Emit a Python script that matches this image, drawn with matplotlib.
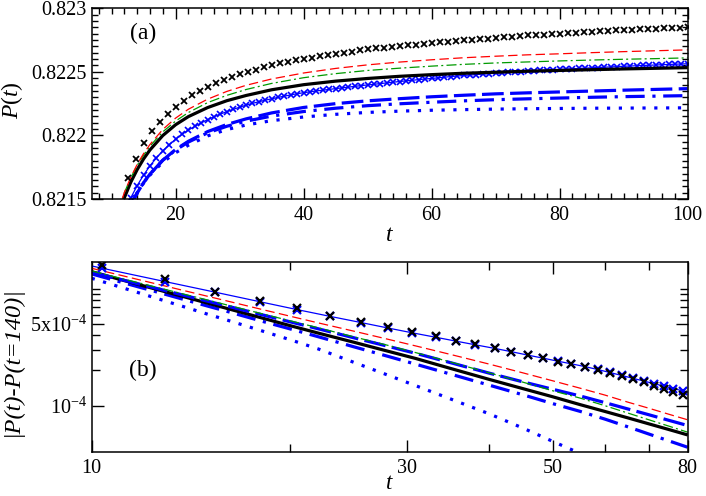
import matplotlib
matplotlib.use('Agg')
import matplotlib.pyplot as plt
import numpy as np
from matplotlib.ticker import FixedLocator, NullFormatter, FixedFormatter, MultipleLocator

plt.rcParams['font.family'] = ['Liberation Serif', 'DejaVu Serif']
plt.rcParams['mathtext.fontset'] = 'custom'
plt.rcParams['mathtext.rm'] = 'Liberation Serif'
plt.rcParams['mathtext.it'] = 'Liberation Serif:italic'

# ---------------- panel (a): P(t) ----------------
t_a = [11, 12, 13, 14, 15, 16, 18, 20, 22, 25, 28, 31, 35, 40, 45, 50, 55, 60, 65, 70, 75, 80, 85, 90, 95, 100]
P_red = [0.821403, 0.821551, 0.821671, 0.821772, 0.821857, 0.821929, 0.822047, 0.822136, 0.822206, 0.822285,
         0.822346, 0.822394, 0.822444, 0.822491, 0.822527, 0.822555, 0.822577, 0.822595, 0.822611, 0.822623,
         0.822634, 0.822642, 0.822651, 0.822659, 0.822666, 0.822673]
P_green = [0.821406, 0.821549, 0.821666, 0.821764, 0.821845, 0.821916, 0.822028, 0.822113, 0.82218, 0.822258,
           0.822315, 0.822361, 0.822409, 0.822454, 0.822486, 0.822511, 0.822529, 0.822545, 0.822559, 0.82257,
           0.822578, 0.822586, 0.822593, 0.822599, 0.822604, 0.82261]
P_black = [0.821359, 0.82151, 0.821632, 0.821731, 0.821815, 0.821886, 0.821999, 0.822084, 0.822148, 0.822219,
           0.822273, 0.822314, 0.822359, 0.822399, 0.822427, 0.822448, 0.822465, 0.822478, 0.822489, 0.822497,
           0.822505, 0.822511, 0.822517, 0.822523, 0.822528, 0.822533]
P_bdash = [0.821199, 0.821338, 0.821453, 0.821549, 0.821628, 0.821696, 0.821805, 0.821889, 0.821954, 0.82203,
           0.822086, 0.82213, 0.822177, 0.82222, 0.82225, 0.822272, 0.822289, 0.822304, 0.822316, 0.822327,
           0.822335, 0.822342, 0.822349, 0.822356, 0.822362, 0.822368]
P_bdashdot = [0.821185, 0.821331, 0.821449, 0.821547, 0.821628, 0.821695, 0.821805, 0.821885, 0.821948, 0.82202,
              0.822072, 0.822112, 0.822152, 0.822188, 0.822214, 0.822234, 0.822249, 0.822261, 0.822272, 0.822281,
              0.822288, 0.822294, 0.8223, 0.822305, 0.822309, 0.822313]
P_bdot = [0.821188, 0.821335, 0.821452, 0.821546, 0.821625, 0.821688, 0.821789, 0.821864, 0.821923, 0.821996,
          0.822046, 0.822082, 0.822116, 0.822145, 0.822166, 0.822181, 0.822191, 0.822198, 0.822203, 0.822207,
          0.82221, 0.822212, 0.822214, 0.822215, 0.822216, 0.822217]

# black crosses (panel a)
t_xk_a = [12.5, 13.75, 15, 16.25, 17.5, 18.75, 20, 21.25, 22.5, 23.75, 25, 26.25, 27.5, 28.75, 30, 31.25,
          32.5, 33.75, 35, 36.25, 37.5, 38.75, 40, 41.25, 42.5, 43.75, 45, 46.25, 47.5, 48.75, 50, 51.25,
          52.5, 53.75, 55, 56.25, 57.5, 58.75, 60, 61.25, 62.5, 63.75, 65, 66.25, 67.5, 68.75, 70, 71.25,
          72.5, 73.75, 75, 76.25, 77.5, 78.75, 80, 81.25, 82.5, 83.75, 85, 86.25, 87.5, 88.75, 90, 91.25,
          92.5, 93.75, 95, 96.25, 97.5, 98.75, 100]
P_xk = [0.821664, 0.821816, 0.821941, 0.822034, 0.822107, 0.822169, 0.822222, 0.822271, 0.822315, 0.822352,
        0.822383, 0.822411, 0.822437, 0.822461, 0.822481, 0.8225, 0.822518, 0.822535, 0.822552, 0.822566,
        0.822578, 0.82259, 0.822601, 0.822612, 0.822623, 0.822634, 0.822643, 0.822651, 0.82266, 0.822669,
        0.822677, 0.822684, 0.82269, 0.822697, 0.822703, 0.822709, 0.822714, 0.82272, 0.822725, 0.822731,
        0.822737, 0.822743, 0.822748, 0.822753, 0.822757, 0.822762, 0.822768, 0.822773, 0.822777, 0.822781,
        0.822786, 0.82279, 0.822793, 0.822797, 0.822801, 0.822805, 0.822809, 0.822813, 0.822816, 0.82282,
        0.822823, 0.822826, 0.822829, 0.822832, 0.822835, 0.822837, 0.82284, 0.822842, 0.822845, 0.822847,
        0.822849]

# blue thin line with blue crosses (panel a)
t_xb_a = list(range(12, 101))
P_xb = [0.821393, 0.821509, 0.821605, 0.821688, 0.821761, 0.821823, 0.821878, 0.821926, 0.82197, 0.822008,
        0.822042, 0.822071, 0.822098, 0.822124, 0.822147, 0.822168, 0.822187, 0.822205, 0.822222, 0.822238,
        0.822252, 0.822265, 0.822277, 0.822288, 0.822299, 0.822309, 0.822319, 0.822328, 0.822336, 0.822343,
        0.82235, 0.822356, 0.822362, 0.822368, 0.822374, 0.82238, 0.822386, 0.822392, 0.822397, 0.822402,
        0.822408, 0.822413, 0.822419, 0.822424, 0.822429, 0.822434, 0.822439, 0.822444, 0.822448, 0.822453,
        0.822458, 0.822463, 0.822467, 0.822472, 0.822475, 0.822479, 0.822482, 0.822486, 0.822489, 0.822492,
        0.822496, 0.822499, 0.822502, 0.822505, 0.822508, 0.822511, 0.822514, 0.822517, 0.822519, 0.822522,
        0.822524, 0.822527, 0.822529, 0.822532, 0.822534, 0.822537, 0.822539, 0.822541, 0.822544, 0.822546,
        0.822548, 0.82255, 0.822552, 0.822554, 0.822556, 0.822558, 0.82256, 0.822562, 0.822564]

# ---------------- panel (b): |P(t)-P(t=140)|, in units of 1e-4 ----------------
t_b = [10, 11, 12, 13, 14, 15, 16, 18, 20, 22, 25, 28, 31, 35, 40, 45, 50, 55, 60, 65, 70, 75, 80]
D_red = [14.96, 13.15, 11.67, 10.47, 9.46, 8.61, 7.89, 6.71, 5.82, 5.12, 4.33, 3.72, 3.24, 2.74, 2.27, 1.91,
         1.63, 1.41, 1.23, 1.07, 0.948, 0.843, 0.757]
D_green = [14.19, 12.39, 10.96, 9.79, 8.81, 8.00, 7.29, 6.17, 5.32, 4.65, 3.87, 3.30, 2.84, 2.36, 1.91, 1.59,
           1.34, 1.16, 0.998, 0.863, 0.755, 0.667, 0.593]
D_black = [14.00, 12.08, 10.57, 9.35, 8.36, 7.52, 6.81, 5.68, 4.83, 4.19, 3.48, 2.94, 2.53, 2.08, 1.68, 1.40,
           1.19, 1.02, 0.891, 0.785, 0.697, 0.624, 0.562]
D_bdash = [13.84, 12.11, 10.72, 9.57, 8.61, 7.82, 7.14, 6.05, 5.21, 4.56, 3.80, 3.24, 2.80, 2.33, 1.90, 1.60,
           1.38, 1.21, 1.06, 0.936, 0.834, 0.748, 0.676]
D_bdashdot = [13.40, 11.53, 10.07, 8.89, 7.91, 7.10, 6.43, 5.33, 4.53, 3.90, 3.18, 2.66, 2.26, 1.86, 1.50, 1.24,
              1.04, 0.893, 0.766, 0.658, 0.570, 0.499, 0.441]
t_b_dot = [10, 11, 12, 13, 14, 15, 16, 18, 20, 22, 25, 28, 31, 35, 40, 45, 50, 55, 60]
D_bdot = [12.30, 10.42, 8.95, 7.78, 6.84, 6.05, 5.42, 4.41, 3.66, 3.07, 2.34, 1.84, 1.48, 1.14, 0.853, 0.644,
          0.494, 0.390, 0.302]

t_x_b = [10.36, 12.9, 15.4, 17.98, 20.45, 23.0, 25.6, 28.1, 30.6, 33.2, 35.6, 38.1, 40.8, 43.2, 45.9, 48.3,
         50.9, 53.3, 55.9, 58.4, 60.9, 63.5, 66.1, 68.6, 71.1, 73.7, 76.1, 78.6]
D_xk = [16.0, 12.05, 9.44, 7.86, 6.82, 5.88, 5.23, 4.71, 4.30, 3.93, 3.60, 3.35, 3.13, 2.90, 2.72, 2.54,
        2.38, 2.26, 2.13, 2.02, 1.90, 1.78, 1.68, 1.58, 1.47, 1.39, 1.30, 1.235]
t_xb_b = [10] + t_x_b + [80]
D_xb = [15.67, 15.01, 11.54, 9.34, 7.75, 6.645, 5.80, 5.14, 4.62, 4.20, 3.85, 3.57, 3.32, 3.09, 2.90, 2.70,
        2.55, 2.40, 2.28, 2.16, 2.04, 1.926, 1.815, 1.714, 1.626, 1.545, 1.468, 1.40, 1.34, 1.306]
UNIT_B = 1e-4

BLUE = '#0000ff'
RED = '#ff0000'
GREEN = '#009a00'

fig = plt.figure(figsize=(7.06, 4.96), dpi=100)
ax1 = fig.add_axes([0.1299, 0.5988, 0.8442, 0.3845])
ax2 = fig.add_axes([0.1299, 0.0893, 0.8442, 0.3819])

thin = 0.9
thick = 2.3

def draw(ax, x, y, kind, scale=1.0):
    y = np.asarray(y) * scale
    if kind == 'red':
        ax.plot(x, y, color=RED, lw=thin, dashes=(7.5, 3.5))
    elif kind == 'green':
        ax.plot(x, y, color=GREEN, lw=thin, dashes=(8, 2.6, 1.6, 2.6))
    elif kind == 'black':
        ax.plot(x, y, color='black', lw=thick, solid_capstyle='butt')
    elif kind == 'bdash':
        ax.plot(x, y, color=BLUE, lw=thick, dashes=(6.8, 2.0))
    elif kind == 'bdashdot':
        ax.plot(x, y, color=BLUE, lw=thick, dashes=(6.0, 2.4, 1.0, 2.4))
    elif kind == 'bdot':
        ax.plot(x, y, color=BLUE, lw=thick, dashes=(1.0, 2.7))

# panel (a)
draw(ax1, t_a, P_bdot, 'bdot')
draw(ax1, t_a, P_bdashdot, 'bdashdot')
draw(ax1, t_a, P_bdash, 'bdash')
ax1.plot(t_xb_a, P_xb, color=BLUE, lw=0.9, marker='x', ms=5, mew=1.2)
draw(ax1, t_a, P_black, 'black')
draw(ax1, t_a, P_green, 'green')
draw(ax1, t_a, P_red, 'red')
ax1.plot(t_xk_a, P_xk, ls='none', color='black', marker='x', ms=5, mew=1.3)

ax1.set_xlim(6.9, 100)
ax1.set_ylim(0.8215, 0.823)
ax1.xaxis.set_major_locator(FixedLocator([20, 40, 60, 80, 100]))
ax1.xaxis.set_minor_locator(MultipleLocator(2))
ax1.yaxis.set_major_locator(FixedLocator([0.8215, 0.822, 0.8225, 0.823]))
ax1.yaxis.set_major_formatter(FixedFormatter(['0.8215', '0.822', '0.8225', '0.823']))
ax1.yaxis.set_minor_locator(MultipleLocator(0.00005))
ax1.set_xlabel(r'$t$', fontsize=17)
ax1.xaxis.set_label_coords(0.5, -0.135)
ax1.set_ylabel(r'$P(t)$', fontsize=17)
ax1.yaxis.set_label_coords(-0.112, 0.52)
ax1.text(0.086, 0.87, '(a)', transform=ax1.transAxes, fontsize=17, ha='center', va='center')

# panel (b)
draw(ax2, t_b_dot, D_bdot, 'bdot', UNIT_B)
draw(ax2, t_b, D_bdashdot, 'bdashdot', UNIT_B)
draw(ax2, t_b, D_black, 'black', UNIT_B)
draw(ax2, t_b, D_bdash, 'bdash', UNIT_B)
draw(ax2, t_b, D_green, 'green', UNIT_B)
draw(ax2, t_b, D_red, 'red', UNIT_B)
ax2.plot(t_xb_b, np.asarray(D_xb) * UNIT_B, color=BLUE, lw=0.9, marker='x', ms=6, mew=1.6,
         markevery=slice(1, len(t_xb_b) - 1))
ax2.plot(t_x_b, np.asarray(D_xk) * UNIT_B, ls='none', color='black', marker='x', ms=6, mew=1.6)

ax2.set_xscale('log')
ax2.set_yscale('log')
ax2.set_xlim(10, 80)
ax2.set_ylim(4.04e-5, 1.685e-3)
ax2.xaxis.set_major_locator(FixedLocator([10, 30, 50, 80]))
ax2.xaxis.set_major_formatter(FixedFormatter(['10', '30', '50', '80']))
ax2.xaxis.set_minor_locator(FixedLocator([20, 40, 60, 70]))
ax2.xaxis.set_minor_formatter(NullFormatter())
ax2.yaxis.set_major_locator(FixedLocator([1e-4, 5e-4]))
ax2.yaxis.set_major_formatter(FixedFormatter([r'10$^{-4}$', r'5x10$^{-4}$']))
ax2.yaxis.set_minor_locator(FixedLocator([2e-4, 3e-4, 4e-4, 6e-4, 7e-4, 8e-4, 9e-4, 1e-3]))
ax2.yaxis.set_minor_formatter(NullFormatter())
ax2.set_xlabel(r'$t$', fontsize=16.5)
ax2.xaxis.set_label_coords(0.5, -0.115)
ax2.set_ylabel('|P(t)-P(t=140)|', fontsize=17.5, style='italic')
ax2.yaxis.set_label_coords(-0.115, 0.48)
ax2.text(0.086, 0.431, '(b)', transform=ax2.transAxes, fontsize=17, ha='center', va='center')

for ax in (ax1, ax2):
    for s in ax.spines.values():
        s.set_linewidth(1.1)
    ax.tick_params(which='both', direction='in', top=True, right=True, labelsize=14.5, width=1.0)
    ax.tick_params(which='major', length=8)
    ax.tick_params(which='minor', length=4)
    ax.tick_params(axis='x', which='major', pad=5)
ax2.tick_params(which='major', length=8.5)
ax2.tick_params(which='minor', length=5.5)

fig.savefig('out.png', dpi=100)
